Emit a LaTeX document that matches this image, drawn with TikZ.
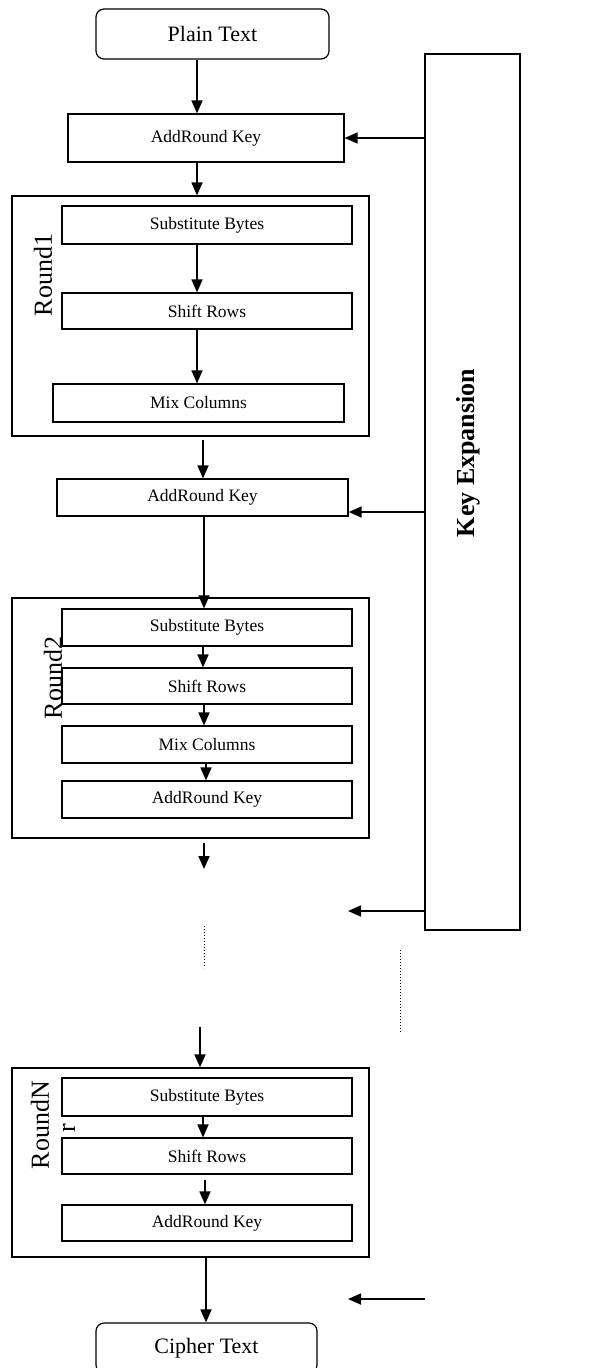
\documentclass[tikz,border=0pt]{standalone}
\usepackage{fontspec}
\setmainfont{Liberation Serif}
\usetikzlibrary{arrows.meta,positioning}

\begin{document}
\begin{tikzpicture}[x=1pt,y=-1pt,
  blk/.style={draw, line width=1.2pt, inner sep=0pt, font=\fontsize{17.5}{20}\selectfont},
  term/.style={blk, rounded corners=8pt, font=\fontsize{22}{24}\selectfont},
  stage/.style={blk, minimum width=290pt, minimum height=37pt},
  roundbox/.style={draw, line width=1.2pt, minimum width=357pt},
  arr/.style={-{Triangle[length=13pt,width=11pt]}, line width=1.7pt},
  rlbl/.style={rotate=90, inner sep=0pt, font=\fontsize{26}{28}\selectfont}]
\useasboundingbox (0,0) rectangle (599,1368);
\clip (0,0) rectangle (599,1368);
% Input and initial key
\node[term, minimum width=233pt, minimum height=50pt] (plain) at (212.5,34) {Plain Text};
\node[blk, minimum width=276pt, minimum height=48pt] (ark0) at (206,138) {AddRound Key};
% Key schedule
\node[blk, minimum width=95pt, minimum height=876pt] (keyexp) at (472.5,492) {};
\node[rotate=90, font=\bfseries\fontsize{26}{28}\selectfont] (keylbl) at (468,453) {Key Expansion};
% Round 1
\node[roundbox, minimum height=240pt] (round1) at (190.5,316) {};
\node[rlbl] (r1lbl) at (43,275) {Round1};
\node[stage, minimum height=38pt] (sb1) at (207,225) {Substitute Bytes};
\node[stage, minimum height=36pt] (sr1) at (207,311) {Shift Rows};
\node[stage, minimum width=291pt, minimum height=38pt] (mc1) at (198.5,403) {Mix Columns};
\node[stage, minimum width=291pt] (ark1) at (202.5,497.5) {AddRound Key};
% Round 2
\node[roundbox, minimum height=240pt] (round2) at (190.5,718) {};
\node[stage] (sb2) at (207,627.5) {Substitute Bytes};
\node[stage, minimum height=36pt] (sr2) at (207,686) {Shift Rows};
\node[stage] (mc2) at (207,744.5) {Mix Columns};
\node[stage] (ark2) at (207,799.5) {AddRound Key};
\node[rlbl] (r2lbl) at (53,678) {Round2};
% Last round
\node[roundbox, minimum height=189pt] (roundN) at (190.5,1162.5) {};
\node[stage, minimum height=38pt] (sbN) at (207,1097) {Substitute Bytes};
\node[stage, minimum height=36pt] (srN) at (207,1156) {Shift Rows};
\node[stage, minimum height=36pt] (arkN) at (207,1223) {AddRound Key};
\node[rlbl] (rNlbl) at (40,1125) {RoundN};
\node[rlbl] (rNr) at (69,1128) {r};
% Output
\node[term, minimum width=221pt, minimum height=50pt] (cipher) at (206.5,1348) {Cipher Text};
% free ends
\coordinate (gap2) at (204,869);
\coordinate (dotA) at (204,926);
\coordinate (dotB) at (204,968);
\coordinate (nIn) at (200,1027);
\coordinate (k3) at (348,911);
\coordinate (k4a) at (425,1299);
\coordinate (k4b) at (348,1299);
\coordinate (kdotA) at (400,950);
\coordinate (kdotB) at (400,1033);
% Data path
\draw[arr] ([xshift=-15.5pt]plain.south) -- ([xshift=-9pt]ark0.north);
\draw[arr] ([xshift=-9pt]ark0.south) -- ([xshift=6.5pt]round1.north);
\draw[arr] ([xshift=-10pt]sb1.south) -- ([xshift=-10pt]sr1.north);
\draw[arr] ([xshift=-10pt]sr1.south) -- ([xshift=-1.5pt]mc1.north);
\draw[arr, shorten <=3pt] ([xshift=12.5pt]round1.south) -- ([xshift=0.5pt]ark1.north);
\draw[arr] ([xshift=1.5pt]ark1.south) -- ([xshift=-3pt]sb2.north);
\foreach \a/\b/\s in {sb2/sr2/-4, sr2/mc2/-3, mc2/ark2/-1}
  \draw[arr] ([xshift=\s pt]\a.south) -- ([xshift=\s pt]\b.north);
\draw[arr, shorten <=4pt] ([xshift=13.5pt]round2.south) -- (gap2);
\draw[dotted, line width=1pt] (dotA) -- (dotB);
\draw[arr] (nIn) -- ([xshift=9.5pt]roundN.north);
\draw[arr] ([xshift=-4pt]sbN.south) -- ([xshift=-4pt]srN.north);
\draw[arr, shorten <=5pt] ([xshift=-2pt]srN.south) -- ([xshift=-2pt]arkN.north);
\draw[arr] ([xshift=15.5pt]roundN.south) -- ([xshift=-0.5pt]cipher.north);
% Round keys
\draw[arr] (ark0.east -| keyexp.west) -- (ark0.east);
\draw[arr] ([yshift=-14.5pt]ark1.east -| keyexp.west) -- ([yshift=-14.5pt]ark1.east);
\draw[arr] (k3 -| keyexp.west) -- (k3);
\draw[arr] (k4a) -- (k4b);
\draw[dotted, line width=1pt] (kdotA) -- (kdotB);
\end{tikzpicture}
\end{document}
